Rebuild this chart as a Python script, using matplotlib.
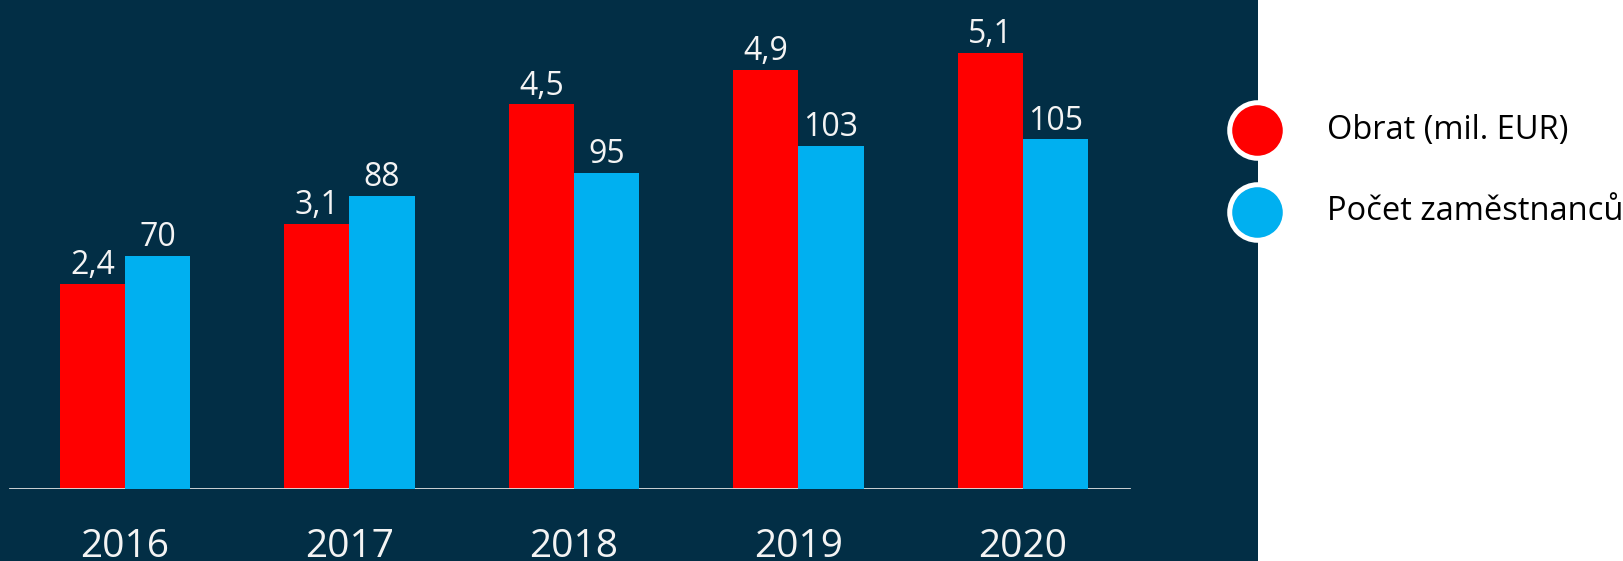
import numpy as np
import matplotlib
matplotlib.use("Agg")
import matplotlib.pyplot as plt
from matplotlib.lines import Line2D
from matplotlib.patches import Rectangle

plt.rcParams['font.family'] = ['Open Sans', 'DejaVu Sans']

years = ['2016', '2017', '2018', '2019', '2020']
obrat = [2.4, 3.1, 4.5, 4.9, 5.1]
zamestnanci = [70, 88, 95, 103, 105]
obrat_labels = ['2,4', '3,1', '4,5', '4,9', '5,1']
zam_labels = ['70', '88', '95', '103', '105']
series = ['Obrat (mil. EUR)', 'Počet zaměstnanců']

bg = '#022e45'
red = '#ff0000'
blue = '#00b0f0'
txt = '#f4f4f4'

W, H = 1624, 561
fig = plt.figure(figsize=(W / 100, H / 100), dpi=100, facecolor='white')

# dark panel
panel_w = 1258 / W
fig.add_artist(Rectangle((0, 0), panel_w, 1, transform=fig.transFigure,
                         facecolor=bg, edgecolor='none', zorder=0))

base_px = 489
ax = fig.add_axes([0, (H - base_px) / H, panel_w, base_px / H])
ax.set_facecolor('none')
ax2 = ax.twinx()
ax2.set_facecolor('none')

x = np.arange(len(years))
w = 0.29
b1 = ax.bar(x - w / 2, obrat, w, color=red, zorder=2)
b2 = ax2.bar(x + w / 2, zamestnanci, w, color=blue, zorder=2)

step = 224.5
ax.set_xlim(-125 / step, (1258 - 125) / step)
ax.set_ylim(0, base_px / 85.5)
ax2.set_ylim(0, base_px / 3.33)

for a, bars, labs in ((ax, b1, obrat_labels), (ax2, b2, zam_labels)):
    for rect, lab in zip(bars, labs):
        a.annotate(lab, (rect.get_x() + rect.get_width() / 2, rect.get_height()),
                   xytext=(0, 7), textcoords='offset points', ha='center',
                   va='baseline', color=txt, fontsize=23)

ax.axhline(0, xmin=10 / 1258, xmax=1129 / 1258, color='#e0e0e0', lw=2, zorder=3)

ax.set_xticks(x)
ax.set_xticklabels(years, fontsize=28, color=txt)
ax.tick_params(axis='x', length=0, pad=28)
ax.set_yticks([])
ax2.set_yticks([])
for a in (ax, ax2):
    for s in a.spines.values():
        s.set_visible(False)

# legend
for i, (name, col) in enumerate(zip(series, [red, blue])):
    yc = 1 - (130 + 82 * i) / H
    fig.add_artist(Line2D([1257 / W], [yc], transform=fig.transFigure, marker='o',
                          markersize=40, markerfacecolor=col, markeredgecolor='white',
                          markeredgewidth=3.6, linestyle='none'))
    fig.text(1327 / W, yc, name, fontsize=23.5, color='black', va='center', ha='left')

fig.savefig('out.png', dpi=100, facecolor='white')
